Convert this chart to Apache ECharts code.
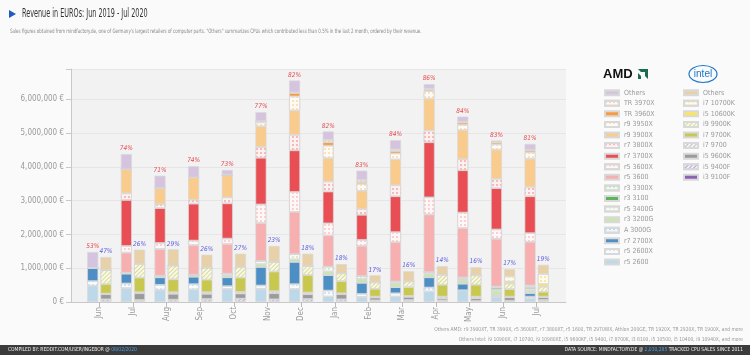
<!DOCTYPE html>
<html><head><meta charset="utf-8">
<script src="https://cdn.jsdelivr.net/npm/echarts/dist/echarts.min.js"></script>
<style>html,body{margin:0;padding:0;background:#fafafa}#c{width:750px;height:355px}</style>
</head><body><div id="c"></div>
<script>
// ---- data (values in million EUR) ----
const months = ['Jun','Jul','Aug','Sep','Oct','Nov','Dec','Jan','Feb','Mar','Apr','May','Jun','Jul'];
const yTicks = [0,1000000,2000000,3000000,4000000,5000000,6000000];
const amdPct = ['53%','74%','71%','74%','73%','77%','82%','82%','83%','84%','86%','84%','83%','81%'];
const intelPct = ['47%','26%','29%','26%','27%','23%','18%','18%','17%','16%','14%','16%','17%','19%'];

// AMD (bottom to top)
const r5_2600  = [0.48,0.41,0.36,0.37,0.38,0.39,0.38,0.16,0.15,0.16,0.31,0.35,0.14,0.10];
const r5_2600X = [0.14,0.14,0.15,0.16,0.09,0.10,0.15,0.18,0.09,0.10,0.12,0.00,0.03,0.06];
const r7_2700X = [0.39,0.29,0.22,0.22,0.26,0.55,0.66,0.46,0.33,0.18,0.30,0.19,0.02,0.10];
const a_3000G  = [0,0,0,0,0,0,0,0,0,0,0,0.01,0.02,0.01];
const r3_3200G = [0,0.03,0.05,0.06,0.06,0.08,0.07,0.10,0.11,0.12,0.10,0.10,0.12,0.06];
const r5_3400G = [0,0,0,0,0.05,0.10,0.16,0.15,0.09,0.05,0.06,0.03,0.04,0.06];
const r3_3100  = [0,0,0,0,0,0,0,0,0,0,0,0.02,0.05,0.05];
const r3_3300X = [0,0,0,0,0,0,0,0,0,0,0,0.03,0.04,0.05];
const r5_3600  = [0,0.59,0.79,0.87,0.88,1.12,1.25,0.92,0.89,1.16,1.70,1.46,1.41,1.29];
const r5_3600X = [0,0.20,0.18,0.14,0.16,0.55,0.59,0.36,0.18,0.30,0.51,0.46,0.28,0.26];
const r7_3700X = [0,1.36,1.03,1.09,1.04,1.38,1.23,0.94,0.74,1.06,1.63,1.25,1.22,1.09];
const r7_3800X = [0,0.20,0.12,0.12,0.18,0.32,0.46,0.30,0.17,0.33,0.35,0.33,0.28,0.28];
const r9_3900X = [0,0.71,0.47,0.66,0.67,0.61,0.72,0.69,0.54,0.76,0.94,0.86,0.86,0.83];
const r9_3950X = [0,0,0,0,0,0.12,0.42,0.37,0.21,0.18,0.23,0.16,0.16,0.19];
const tr_3960X = [0,0,0,0,0,0.04,0.10,0.10,0.05,0.07,0.04,0.06,0.05,0.05];
const tr_3970X = [0,0,0,0,0,0,0.02,0.07,0.07,0.05,0.03,0.03,0.02,0.02];
const amdOthers= [0.47,0.45,0.37,0.33,0.14,0.26,0.35,0.25,0.27,0.27,0.13,0.15,0.04,0.18];

// Intel (bottom to top)
const i3_9100F  = [0.02,0.02,0.02,0.02,0.02,0.02,0.02,0.02,0.02,0.02,0.02,0.01,0.02,0.02];
const i5_9400F  = [0.06,0.04,0.05,0.07,0.08,0.06,0.07,0.06,0.03,0.04,0.03,0.02,0.02,0.04];
const i5_9600K  = [0.15,0.20,0.17,0.15,0.15,0.18,0.14,0.15,0.08,0.09,0.06,0.08,0.10,0.08];
const i7_9700   = [0.02,0.03,0.05,0.05,0.05,0.06,0.05,0.03,0.03,0.03,0.05,0.05,0.02,0.02];
const i7_9700K  = [0.28,0.43,0.38,0.37,0.42,0.58,0.52,0.36,0.23,0.26,0.35,0.35,0.22,0.14];
const i9_9900K  = [0.42,0.40,0.41,0.36,0.32,0.29,0.27,0.23,0.19,0.17,0.30,0.28,0.17,0.15];
const i5_10600K = [0,0,0,0,0,0,0,0,0,0,0,0,0.05,0.08];
const i7_10700K = [0,0,0,0,0,0,0,0,0,0,0,0,0.16,0.30];
const intelOthers=[0.38,0.43,0.48,0.38,0.39,0.47,0.36,0.27,0.21,0.30,0.25,0.24,0.21,0.27];

// ---- styles ----
const FONT = "'DejaVu Sans Condensed','Liberation Sans Narrow','Roboto',sans-serif";
function solid(c){return {color:c};}
function dots(c,bg){return {color:bg, decal:{symbol:'circle',symbolSize:1,color:c,dashArrayX:[1.3,1.3],dashArrayY:[1.3,1.3]}};}
function hatch(c,bg){return {color:bg, decal:{symbol:'rect',symbolSize:1,color:c,dashArrayX:[1,0],dashArrayY:[1,1.6],rotation:-Math.PI/4}};}

const amdDefs = [
  ['r5 2600', r5_2600, solid('#bcd8e9')],
  ['r5 2600X', r5_2600X, dots('#c3ddee','#f8fbfd')],
  ['r7 2700X', r7_2700X, solid('#4d8fc4')],
  ['A 3000G', a_3000G, dots('#9cc2e2','#f0f6fb')],
  ['r3 3200G', r3_3200G, solid('#c8e6b0')],
  ['r5 3400G', r5_3400G, dots('#cde7bb','#f7fcf3')],
  ['r3 3100', r3_3100, solid('#5cb55c')],
  ['r3 3300X', r3_3300X, dots('#9fd19d','#f0f9ee')],
  ['r5 3600', r5_3600, solid('#f7afb0')],
  ['r5 3600X', r5_3600X, dots('#f7c4c4','#fff7f7')],
  ['r7 3700X', r7_3700X, solid('#e84e53')],
  ['r7 3800X', r7_3800X, dots('#f3a9a9','#fdf0f0')],
  ['r9 3900X', r9_3900X, solid('#f9cb8c')],
  ['r9 3950X', r9_3950X, dots('#f8d9ae','#fffaf3')],
  ['TR 3960X', tr_3960X, solid('#f99b3e')],
  ['TR 3970X', tr_3970X, dots('#f6c197','#fff7f0')],
  ['Others', amdOthers, solid('#d6c3df')]
];
const intelDefs = [
  ['i3 9100F', i3_9100F, solid('#8a62b5')],
  ['i5 9400F', i5_9400F, hatch('#b49bd2','#f4f0f9')],
  ['i5 9600K', i5_9600K, solid('#9b9b9b')],
  ['i7 9700', i7_9700, hatch('#c0c0c0','#f5f5f5')],
  ['i7 9700K', i7_9700K, solid('#c8c84e')],
  ['i9 9900K', i9_9900K, hatch('#d9db95','#f8f9e8')],
  ['i5 10600K', i5_10600K, solid('#fde45a')],
  ['i7 10700K', i7_10700K, dots('#f5e29a','#fffbea')],
  ['Others ', intelOthers, solid('#e8d0a8')]
];

function mk(defs, stack, pct, pctColor){
  return defs.map((d,k)=>{
    const s = {
      name:d[0], type:'bar', stack:stack, xAxisIndex:1, yAxisIndex:1, barWidth:11, barGap:'20%',
      data:d[1].map(v=>Math.round(v*1e6)),
      itemStyle:Object.assign({borderColor:'#d9d9d9',borderWidth:0.7}, d[2]),
      emphasis:{disabled:true}
    };
    if(k===defs.length-1){
      s.label={show:true,position:'top',distance:2,formatter:p=>pct[p.dataIndex],color:pctColor,
        fontSize:6.5,fontStyle:'italic',fontFamily:FONT};
    }
    return s;
  });
}
const series = mk(amdDefs,'amd',amdPct,'#e5484d').concat(mk(intelDefs,'intel',intelPct,'#5a5ae0'));

const legendText = {fontSize:7,color:'#9a9a9a',fontFamily:FONT,lineHeight:8};
const chart = echarts.init(document.getElementById('c'),null,{renderer:'canvas'});
chart.setOption({
  backgroundColor:'#fafafa',
  animation:false,
  grid:[
    {left:71,right:184,top:69,bottom:53,show:true,backgroundColor:'#f2f2f2',borderWidth:0},
    {left:82.5,right:196.5,top:69,bottom:53}
  ],
  xAxis:[
    {gridIndex:0,type:'value',min:0,max:1,axisLine:{show:true,lineStyle:{color:'#c8c8c8'}},axisTick:{show:false},axisLabel:{show:false},splitLine:{show:false}},
    {gridIndex:1,type:'category',data:months,axisLine:{show:false},
     axisTick:{show:true,alignWithLabel:true,length:5,lineStyle:{color:'#bbb'}},
     axisLabel:{rotate:90,fontSize:8,color:'#9a9a9a',margin:5,fontFamily:FONT}}
  ],
  yAxis:[
    {gridIndex:0,type:'value',min:0,max:6900000,interval:1000000,
     axisLine:{show:true,lineStyle:{color:'#c8c8c8'}},axisTick:{show:true,length:5,lineStyle:{color:'#c8c8c8'}},
     splitLine:{lineStyle:{color:'#e6e6e6'}},
     axisLabel:{fontSize:8,color:'#9a9a9a',margin:7,fontFamily:FONT,
       formatter:v=>yTicks.indexOf(v)>=0 ? v.toLocaleString('en-US')+' €' : ''}},
    {gridIndex:1,type:'value',min:0,max:6900000,show:false}
  ],
  legend:[
    {data:amdDefs.map(d=>d[0]).reverse(),orient:'vertical',left:604,top:88.7,padding:0,itemGap:2.58,
     itemWidth:14,itemHeight:5,icon:'rect',selectedMode:false,textStyle:legendText},
    {data:intelDefs.map(d=>d[0]).reverse(),orient:'vertical',left:683,top:88.7,padding:0,itemGap:2.58,
     itemWidth:14,itemHeight:5,icon:'rect',selectedMode:false,textStyle:legendText}
  ],
  series:series,
  graphic:[
    {type:'polygon',shape:{points:[[9,10],[9,18],[16,14]]},style:{fill:'#1f5cc0'}},
    {type:'text',x:22,y:14,scaleX:0.6,style:{text:'Revenue in EUROs: Jun 2019 - Jul 2020',fontSize:12,fill:'#333',verticalAlign:'middle',fontFamily:FONT}},
    {type:'text',x:10,y:31,scaleX:0.74,style:{text:'Sales figures obtained from mindfactory.de, one of Germany\'s largest retailers of computer parts. "Others" summarizes CPUs which contributed less than 0.5% in the last 2 month, ordered by their revenue.',fontSize:6,fill:'#888',verticalAlign:'middle',fontFamily:FONT}},
    // AMD logo
    {type:'text',left:603,top:68,style:{text:'AMD',fontSize:13,fontWeight:'bold',fill:'#111',fontFamily:"'Liberation Sans',sans-serif"}},
    {type:'polygon',shape:{points:[[638,69],[648,69],[648,79],[645,76],[645,72],[641,72]]},style:{fill:'#1a6b50'}},
    {type:'polygon',shape:{points:[[638,73],[641,76],[641,79],[638,79]]},style:{fill:'#1a6b50'}},
    // Intel logo
    {type:'ellipse',shape:{cx:703,cy:74,rx:14,ry:8.5},style:{fill:'none',stroke:'#1b75c9',lineWidth:1.2}},
    {type:'text',x:703,y:74,style:{text:'intel',fontSize:10,fill:'#1b75c9',align:'center',verticalAlign:'middle',fontFamily:"'Liberation Sans',sans-serif"}},
    // footnotes
    {type:'text',x:743,y:330,scaleX:0.9,style:{text:'Others AMD: r9 3900XT, TR 3990X, r5 3600XT, r7 3800XT, r5 1600, TR 2970WX, Athlon 200GE, TR 1920X, TR 2920X, TR 1900X, and more',fontSize:5.5,fill:'#999',align:'right',verticalAlign:'middle',fontFamily:FONT}},
    {type:'text',x:743,y:340,scaleX:0.9,style:{text:'Others Intel: i9 10900X, i7 10700, i9 10980XE, i5 9600KF, i5 9400, i7 8700K, i3 8100, i5 10500, i5 10400, i9 10940X, and more',fontSize:5.5,fill:'#999',align:'right',verticalAlign:'middle',fontFamily:FONT}},
    // footer
    {type:'rect',shape:{x:0,y:345,width:750,height:10},style:{fill:'#3b3b3b'}},
    {type:'text',x:8,y:350,scaleX:0.9,style:{text:'{a|COMPILED BY: REDDIT.COM/USER/INGEBOR @ }{b|08/02/2020}',verticalAlign:'middle',
      rich:{a:{fontSize:5.5,fill:'#eee',fontFamily:FONT},b:{fontSize:5.5,fill:'#4da3e8',fontFamily:FONT}}}},
    {type:'text',x:743,y:350,scaleX:0.9,style:{text:'{a|DATA SOURCE: MINDFACTORY.DE @ }{b|2,030,285}{a| TRACKED CPU SALES SINCE 2011}',align:'right',verticalAlign:'middle',
      rich:{a:{fontSize:5.5,fill:'#eee',fontFamily:FONT},b:{fontSize:5.5,fill:'#4da3e8',fontFamily:FONT}}}}
  ]
});
</script></body></html>
